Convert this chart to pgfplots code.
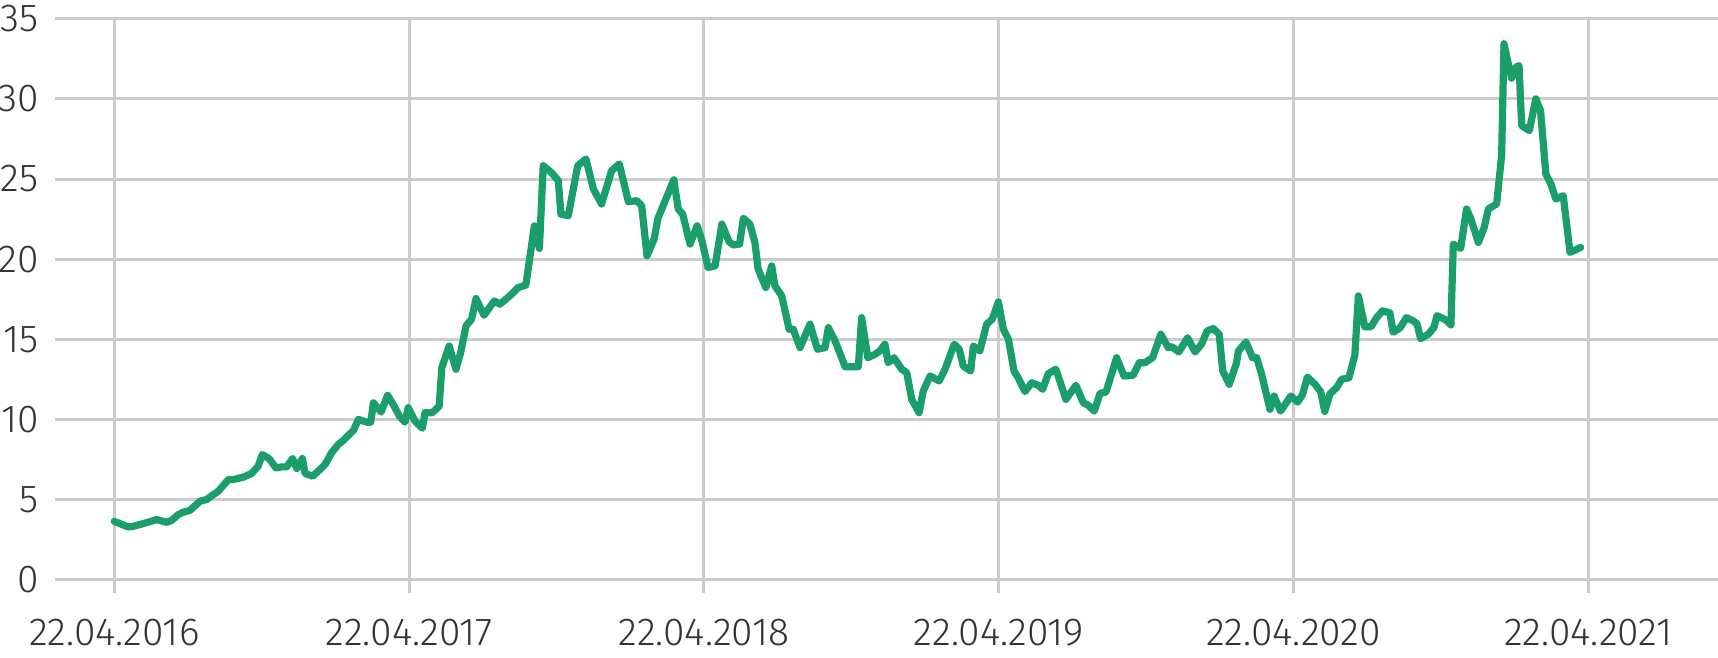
\documentclass[border=0pt]{standalone}
\usepackage{fontspec}
\setmainfont{Fira Sans}[UprightFont=* Light]
\usepackage{pgfplots}
\pgfplotsset{compat=1.18}
\definecolor{linegreen}{RGB}{26,158,106}
\definecolor{gridgray}{RGB}{204,204,204}
\definecolor{textgray}{RGB}{51,51,51}
\begin{document}
\begin{tikzpicture}
\begin{axis}[
  scale only axis,
  width=831.5pt, height=286.9pt,
  xmin=-0.201, xmax=5.440,
  ymin=-0.8, ymax=35,
  axis line style={draw=none},
  major tick length=0pt,
  xtick={0,1,2,3,4,5},
  xticklabels={22.04.2016,22.04.2017,22.04.2018,22.04.2019,22.04.2020,22.04.2021},
  ytick={0,5,10,15,20,25,30,35},
  xmajorgrids, ymajorgrids,
  grid style={gridgray, line width=1.5pt},
  tick label style={font=\fontsize{19.5}{21}\selectfont, text=textgray},
  /pgf/number format/assume math mode=true,
  yticklabel style={inner sep=0pt, anchor=east, xshift=-8pt},
  xticklabel style={inner sep=0pt, anchor=base, yshift=-26.5pt},
  clip=false,
]
\addplot[linegreen, line width=3.6pt, line join=round, line cap=round] coordinates {
(0.000,3.64) (0.047,3.29) (0.064,3.33) (0.098,3.50) (0.144,3.75) (0.178,3.58)
(0.195,3.71) (0.217,4.06) (0.234,4.21) (0.257,4.33) (0.291,4.90) (0.313,5.00)
(0.336,5.31) (0.353,5.52) (0.387,6.25) (0.404,6.25) (0.438,6.40) (0.466,6.63)
(0.488,7.08) (0.502,7.81) (0.526,7.54) (0.548,6.98) (0.568,7.04) (0.585,7.04)
(0.605,7.56) (0.619,6.94) (0.638,7.56) (0.647,6.63) (0.673,6.46) (0.698,6.88)
(0.715,7.19) (0.737,7.92) (0.760,8.44) (0.777,8.69) (0.794,9.00) (0.811,9.31)
(0.828,10.00) (0.856,9.83) (0.870,9.83) (0.879,11.04) (0.905,10.46) (0.927,11.50)
(0.946,10.94) (0.967,10.21) (0.986,9.83) (0.997,10.73) (1.020,9.90) (1.045,9.45)
(1.054,10.42) (1.079,10.42) (1.102,10.83) (1.111,13.23) (1.136,14.58) (1.159,13.13)
(1.175,14.17) (1.193,15.83) (1.212,16.25) (1.227,17.54) (1.254,16.50) (1.289,17.39)
(1.308,17.19) (1.342,17.71) (1.370,18.23) (1.396,18.38) (1.425,22.08) (1.442,20.67)
(1.455,25.83) (1.484,25.38) (1.506,24.90) (1.515,22.81) (1.540,22.71) (1.572,25.83)
(1.600,26.25) (1.625,24.38) (1.653,23.44) (1.687,25.52) (1.713,25.94) (1.744,23.58)
(1.772,23.65) (1.789,23.33) (1.807,20.21) (1.831,21.25) (1.844,22.55) (1.898,24.95)
(1.913,23.13) (1.928,22.81) (1.953,20.94) (1.977,22.08) (1.992,21.25) (2.014,19.48)
(2.038,19.58) (2.061,22.19) (2.085,21.10) (2.100,20.88) (2.121,20.94) (2.134,22.55)
(2.156,22.19) (2.173,21.04) (2.184,19.38) (2.210,18.23) (2.230,19.58) (2.241,18.33)
(2.264,17.71) (2.289,15.63) (2.303,15.63) (2.326,14.48) (2.360,15.94) (2.385,14.38)
(2.411,14.48) (2.422,15.73) (2.445,14.90) (2.479,13.29) (2.524,13.29) (2.535,16.35)
(2.556,13.85) (2.580,14.06) (2.597,14.27) (2.614,14.69) (2.625,13.54) (2.645,13.85)
(2.671,13.13) (2.688,12.92) (2.705,11.25) (2.730,10.42) (2.744,11.77) (2.767,12.71)
(2.798,12.40) (2.818,13.13) (2.849,14.69) (2.866,14.38) (2.880,13.33) (2.905,13.02)
(2.914,14.58) (2.936,14.27) (2.959,15.94) (2.978,16.25) (2.999,17.33) (3.016,15.63)
(3.033,15.00) (3.052,13.02) (3.066,12.60) (3.089,11.74) (3.112,12.29) (3.134,12.13)
(3.149,11.88) (3.168,12.85) (3.194,13.13) (3.228,11.25) (3.262,12.13) (3.287,11.04)
(3.304,10.88) (3.324,10.52) (3.344,11.63) (3.364,11.71) (3.400,13.85) (3.425,12.71)
(3.456,12.75) (3.477,13.54) (3.496,13.54) (3.522,13.85) (3.550,15.31) (3.575,14.48)
(3.587,14.54) (3.611,14.21) (3.641,15.10) (3.666,14.21) (3.688,14.69) (3.707,15.52)
(3.728,15.67) (3.748,15.31) (3.760,13.02) (3.782,12.19) (3.807,13.54) (3.813,14.27)
(3.839,14.83) (3.861,13.85) (3.875,13.85) (3.892,12.81) (3.920,10.63) (3.934,11.46)
(3.956,10.52) (3.991,11.46) (4.014,11.08) (4.031,11.56) (4.047,12.64) (4.073,12.19)
(4.092,11.74) (4.106,10.50) (4.124,11.60) (4.147,12.00) (4.163,12.50) (4.188,12.60)
(4.208,14.00) (4.220,17.71) (4.242,15.78) (4.263,15.78) (4.282,16.35) (4.302,16.77)
(4.327,16.65) (4.338,15.44) (4.361,15.70) (4.383,16.35) (4.406,16.15) (4.419,15.97)
(4.431,15.04) (4.457,15.31) (4.476,15.73) (4.487,16.48) (4.517,16.20) (4.534,15.90)
(4.542,20.94) (4.567,20.67) (4.587,23.13) (4.602,22.50) (4.627,21.04) (4.647,21.98)
(4.661,23.13) (4.689,23.44) (4.706,26.46) (4.714,33.44) (4.725,32.50) (4.740,31.29)
(4.755,31.98) (4.765,32.08) (4.774,28.33) (4.800,28.02) (4.822,30.00) (4.838,29.27)
(4.856,25.31) (4.873,24.69) (4.890,23.75) (4.915,23.96) (4.938,20.42) (4.974,20.73)
};
\coordinate (bl) at (axis cs:-0.3877,-4.83);
\coordinate (tr) at (axis cs:5.440,36.17);
\end{axis}
\pgfresetboundingbox
\path[use as bounding box] (bl) rectangle (tr);
\end{tikzpicture}
\end{document}
